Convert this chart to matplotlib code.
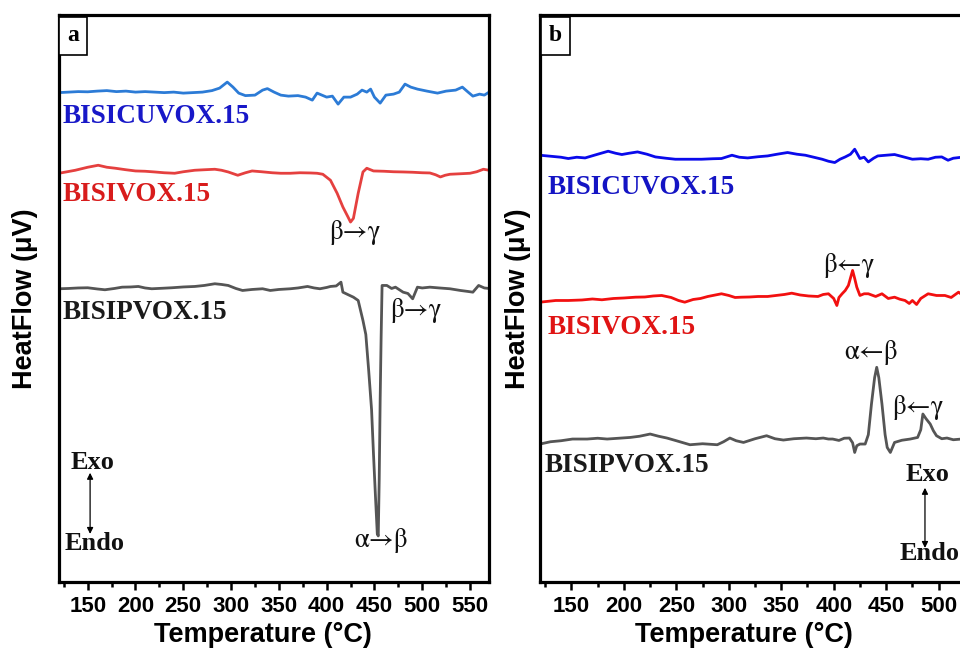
import matplotlib
matplotlib.use('Agg')
import matplotlib.pyplot as plt
from matplotlib.ticker import MultipleLocator, FixedLocator

# ── data (a): heating run, offsets stack the curves ───────────────────
t_cu_a = [120, 130, 140, 150, 160, 170, 180, 190, 200, 210, 220, 230, 240, 250, 260, 270,
          280, 288, 296, 302, 308, 315, 325, 333, 338, 345, 352, 360, 370, 378, 385, 390,
          395, 400, 406, 412, 418, 425, 432, 437, 442, 446, 450, 456, 462, 470, 476, 482,
          488, 495, 505, 516, 525, 535, 542, 548, 553, 560, 565, 570]
hf_cu_a = [-0.5, 0, 0.5, 0.3, 1, 1.5, 0.5, 1, 0, 0.5, 0, -0.5, 0, -1, -0.5, 0,
           1.5, 4, 10, 5, -1, -3.5, -3, 2, 3.5, 0, -3, -4, -3.5, -5, -8, -1,
           -3, -5, -4, -12, -5, -5, -2, 2, 0, 3, -5, -11, -3, -2, 0, 8,
           5, 3, 1, -1, 1, 2, 5, 0, -4, -2, -3, 0]

t_v_a = [120, 137, 150, 161, 170, 179, 190, 200, 210, 220, 230, 241, 250, 262, 272, 283,
         290, 297, 307, 315, 322, 332, 343, 352, 362, 372, 383, 390, 396, 404, 411, 417,
         422, 425, 428, 433, 438, 442, 449, 460, 470, 480, 490, 500, 508, 514, 519, 524,
         529, 540, 550, 557, 564, 570]
hf_v_a = [-2, 1, 4, 6, 4, 3, 1.5, 0.3, 0, -0.7, -1.5, -2, -0.5, 1, 1.5, 2,
          1, -0.7, -4, -1.5, 0.3, -0.5, -1.5, -2, -2, -1.5, -1.7, -2, -3, -9, -22, -35.7,
          -45, -50.7, -47, -22, -0.7, 3, 0.3, 0, -0.5, -0.7, -1, -1.5, -1.7, -3.5, -5.7, -4,
          -3, -2.5, -2, -0.5, 2, 1]

t_p_a = [120, 130, 140, 150, 160, 168, 178, 186, 195, 203, 210, 217, 228, 238, 250, 262,
         272, 283, 290, 297, 305, 312, 322, 333, 341, 350, 362, 370, 380, 387, 393, 400,
         404, 410, 415, 417, 422, 428, 433, 438, 441, 444, 447, 449, 451, 453, 454, 455,
         456, 457, 458, 463, 468, 472, 480, 485, 490, 495, 500, 508, 518, 529, 540, 548,
         553, 559, 565, 570]
hf_p_a = [0.7, 1, 1.5, 1.7, 0.5, -0.3, 1, 2.3, 2.5, 3, 1.5, 0.7, 1.2, 1.7, 2.5, 3,
          4, 5.7, 5, 4, 1, -1, 0, 0.7, -1, 0, 0.7, 1.5, 3, 1.5, 0.7, 2,
          3, 3.5, 7.3, -2.7, -5, -7.7, -11, -31, -45, -81, -120, -164, -205, -244, -246, -190,
          -110, -48, 4, 4, 1, 2.3, -2.7, -4, -9.3, 2.3, 1.5, 2.3, 1.5, 0.7, -1, -2,
          -2.7, 4, 1.5, 1]

# ── data (b): cooling run ─────────────────────────────────────────────
t_cu_b = [120, 130, 140, 147, 155, 163, 175, 185, 192, 198, 205, 213, 222, 230, 240, 249,
          260, 274, 285, 293, 303, 310, 318, 328, 337, 346, 356, 365, 373, 381, 389, 395,
          401, 406, 411, 416, 420, 425, 429, 433, 438, 442, 450, 458, 466, 475, 483, 490,
          497, 503, 509, 514, 522]
hf_cu_b = [2, 1, 0, -1.3, 0, -0.7, 3, 6, 4, 2.7, 4, 5.3, 3, 0.3, -1, -2,
           -2, -2, -1.5, -1.3, 2, 0, -0.7, 0.5, 1.3, 3, 4.7, 3, 2, 0, -2, -4,
           -5.3, -2, 0.3, 3, 8, -1.3, 0, -4.7, -1, 1.3, 2, 2.7, 0.5, -2, -1.5, -2,
           0, 0.3, -3, -1, 0]

t_v_b = [120, 135, 147, 160, 170, 179, 190, 200, 211, 220, 228, 236, 245, 252, 258, 266,
         273, 280, 293, 300, 306, 312, 320, 328, 337, 345, 353, 360, 368, 376, 385, 390,
         395, 400, 403, 405, 408, 411, 414, 418, 420, 422, 425, 429, 433, 440, 446, 452,
         458, 463, 468, 472, 475, 479, 483, 490, 498, 506, 512, 519, 522]
hf_v_b = [-3.7, -2, -2, -1.5, -0.5, -1.3, 0, 0.5, 1.3, 1.5, 2.5, 3, 1, -2, -3.7, -1,
          0, 2, 4.7, 3, 1, 1.3, 1.5, 2, 2, 3, 4, 5.3, 3.5, 2.5, 2, 4,
          4.7, 0, -7, 1, 4.7, 8, 13, 28, 20, 11.3, 3, 4.7, 4.7, 2, 4.7, 0,
          1.3, -0.7, -2, -5, -2, -6, 0, 4.7, 3, 3, 1, 6.3, 4]

t_p_b = [120, 130, 140, 151, 165, 175, 184, 195, 206, 215, 225, 233, 241, 250, 263, 275,
         289, 295, 301, 307, 314, 325, 336, 344, 352, 362, 374, 383, 390, 395, 399, 405,
         410, 415, 418, 420, 422, 425, 430, 433, 436, 439, 441, 443, 446, 449, 451, 454,
         458, 465, 473, 480, 483, 485, 488, 492, 495, 498, 503, 508, 514, 522]
hf_p_b = [-4.3, -2, -1, 0.7, 0.7, 1.5, 0.7, 1.5, 2.3, 3.5, 5.7, 3.5, 1.7, -1, -5, -4,
          -5, -2, 1.7, -1, -2.7, 1, 4, 1, -0.3, 1, 1.7, 1, 1.7, 0.7, 0.7, -0.7,
          1.5, 1.7, -3, -12.7, -6, -4.3, -4.3, 5, 35.7, 62, 72.3, 62, 35.7, 5, -7.7, -12.7,
          -2.7, -0.5, 0.7, 2.3, 10, 25.7, 21, 15.7, 9, 4, 1, 1.7, 0, 0.7]

names = ['BISICUVOX.15', 'BISIVOX.15', 'BISIPVOX.15']
offsets_a = [489, 410, 292]
offsets_b = [424, 283, 142]
ticks_b = [150, 200, 250, 300, 350, 400, 450, 500]   # panel b is cropped past ~520 °C

line_cols_a = ['#2c7bd6', '#e5403f', '#555555']
text_cols_a = ['#1818c8', '#d81c1c', '#1a1a1a']
line_cols_b = ['#0a0aeb', '#f21010', '#555555']
text_cols_b = ['#1414c4', '#e01414', '#1a1a1a']

serif = ['Liberation Serif', 'DejaVu Serif']
greek = ['STIXGeneral', 'DejaVu Serif']
sans = ['Liberation Sans', 'DejaVu Sans']

fig = plt.figure(figsize=(9.6, 6.51), dpi=100)
ax_a = fig.add_axes([0.0615, 0.106, 0.448, 0.871])
ax_b = fig.add_axes([0.5625, 0.106, 0.4917, 0.871])


def style_axes(ax, xlab_x, ylab_x):
    ax.set_xlim(120, 570)
    ax.set_ylim(0, 566)
    ax.set_yticks([])
    ax.xaxis.set_major_locator(MultipleLocator(50))
    ax.xaxis.set_minor_locator(MultipleLocator(25))
    ax.tick_params(axis='x', which='major', direction='out', length=6, width=1.8, pad=4)
    ax.tick_params(axis='x', which='minor', direction='out', length=3.5, width=1.8)
    for sp in ax.spines.values():
        sp.set_linewidth(2.3)
    ax.set_xlabel('Temperature (°C)', fontfamily=sans, fontweight='bold', fontsize=19.5,
                  va='center')
    ax.xaxis.set_label_coords(xlab_x, -0.093)
    ax.set_ylabel('HeatFlow (μV)', fontfamily=sans, fontweight='bold', fontsize=19.5,
                  va='center')
    ax.yaxis.set_label_coords(ylab_x, 0.5)


series_a = [(t_cu_a, hf_cu_a), (t_v_a, hf_v_a), (t_p_a, hf_p_a)]
series_b = [(t_cu_b, hf_cu_b), (t_v_b, hf_v_b), (t_p_b, hf_p_b)]

for (t, hf), off, c in zip(series_a, offsets_a, line_cols_a):
    ax_a.plot(t, [off + v for v in hf], color=c, lw=2.0)
for (t, hf), off, c in zip(series_b, offsets_b, line_cols_b):
    ax_b.plot(t, [off + v for v in hf], color=c, lw=2.0)

style_axes(ax_a, 0.473, -0.079)
style_axes(ax_b, 0.432, -0.047)
ax_b.xaxis.set_major_locator(FixedLocator(ticks_b))
for ax in (ax_a, ax_b):
    for lab in ax.get_xticklabels():
        lab.set_fontfamily(sans)
        lab.set_fontweight('bold')
        lab.set_fontsize(16)

# ── sample names ──────────────────────────────────────────────────────
for name, y, c in zip(names, [465, 387, 269], text_cols_a):
    ax_a.text(124, y, name, color=c, fontfamily=serif, fontweight='bold',
              fontsize=19.5, ha='left', va='center')
for name, x, y, c in zip(names, [127.5, 127.5, 124.8], [394, 254, 116], text_cols_b):
    ax_b.text(x, y, name, color=c, fontfamily=serif, fontweight='bold',
              fontsize=19.5, ha='left', va='center')

# ── transitions ───────────────────────────────────────────────────────
kw = dict(fontfamily=greek, fontsize=19.5, ha='center', va='center', color='#111111')
ax_a.text(430, 349, 'β→γ', **kw)
ax_a.text(494, 271, 'β→γ', **kw)
ax_a.text(457, 41, 'α→β', **kw)
ax_b.text(414.5, 316, 'β←γ', **kw)
ax_b.text(435.5, 229, 'α←β', **kw)
ax_b.text(481, 174, 'β←γ', **kw)

# ── Exo / Endo ────────────────────────────────────────────────────────
bkw = dict(fontfamily=serif, fontsize=19, fontweight='bold', va='center', color='#111111')
ax_a.text(155.5, 119, 'Exo', ha='center', **bkw)
ax_a.text(157.5, 38, 'Endo', ha='center', **bkw)
ax_a.annotate('', xy=(152.5, 109), xytext=(152.5, 48),
              arrowprops=dict(arrowstyle='<|-|>', color='black', lw=0.9,
                              mutation_scale=9, shrinkA=0, shrinkB=0))
ax_b.text(489, 107, 'Exo', ha='center', **bkw)
ax_b.text(463, 28, 'Endo', ha='left', **bkw)
ax_b.annotate('', xy=(487, 94), xytext=(487, 34),
              arrowprops=dict(arrowstyle='<|-|>', color='black', lw=0.9,
                              mutation_scale=9, shrinkA=0, shrinkB=0))

# ── panel letters ─────────────────────────────────────────────────────
for ax, lab in [(ax_a, 'a'), (ax_b, 'b')]:
    ax.text(0.033, 0.963, lab, transform=ax.transAxes, fontfamily=serif,
            fontweight='bold', fontsize=17, ha='center', va='center',
            bbox=dict(boxstyle='square,pad=0.35', fc='white', ec='black', lw=1.2))

fig.savefig('out.png', dpi=100)
